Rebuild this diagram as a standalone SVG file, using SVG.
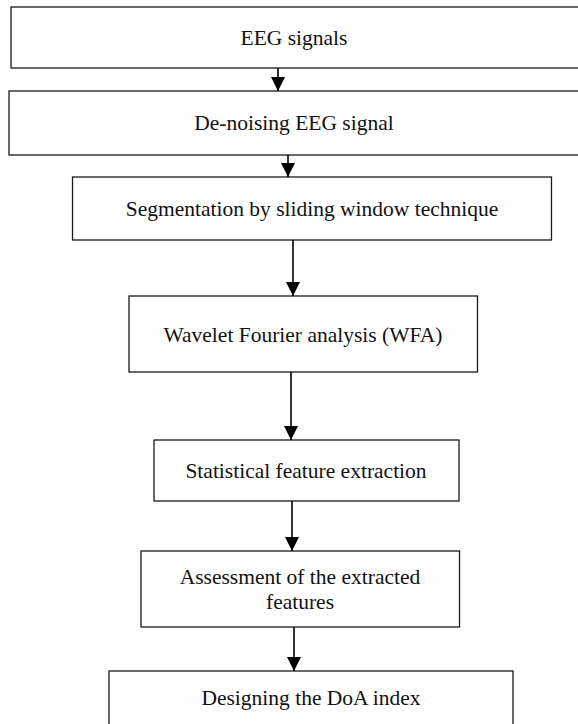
<svg xmlns="http://www.w3.org/2000/svg" width="578" height="724" viewBox="0 0 578 724">
  <style>
    .box { fill: #ffffff; stroke: #1a1a1a; stroke-width: 1.3; }
    .label { font-family: "Liberation Serif", "Times New Roman", serif; font-size: 21.5px; fill: #111111; text-anchor: middle; }
    .flow { stroke: #000000; stroke-width: 1.6; fill: none; marker-end: url(#head); }
  </style>
  <defs>
    <marker id="head" markerUnits="userSpaceOnUse" markerWidth="14" markerHeight="14" refX="14" refY="7" orient="auto" viewBox="0 0 14 14">
      <path d="M0,0 L14,7 L0,14 z" fill="#000000"/>
    </marker>
  </defs>
  <rect width="578" height="724" fill="#ffffff"/>

  <g id="eeg-signals">
    <rect class="box" x="11" y="7" width="590" height="61"/>
    <text class="label" x="294" y="45">EEG signals</text>
  </g>
  <g id="denoising">
    <rect class="box" x="9" y="91" width="590" height="64"/>
    <text class="label" x="294" y="130">De-noising EEG signal</text>
  </g>
  <g id="segmentation">
    <rect class="box" x="72.5" y="177" width="479" height="63"/>
    <text class="label" x="312" y="216">Segmentation by sliding window technique</text>
  </g>
  <g id="wfa">
    <rect class="box" x="129" y="296" width="348.5" height="76"/>
    <text class="label" x="303" y="342">Wavelet Fourier analysis (WFA)</text>
  </g>
  <g id="feature-extraction">
    <rect class="box" x="154" y="440" width="305" height="61"/>
    <text class="label" x="306" y="478">Statistical feature extraction</text>
  </g>
  <g id="assessment">
    <rect class="box" x="141" y="551" width="318.5" height="76"/>
    <text class="label" x="300" y="584">Assessment of the extracted</text>
    <text class="label" x="300" y="609">features</text>
  </g>
  <g id="doa-index">
    <rect class="box" x="109" y="671" width="404" height="70"/>
    <text class="label" x="311" y="705">Designing the DoA index</text>
  </g>

  <g id="connectors">
    <line class="flow" x1="278" y1="68" x2="278" y2="91"/>
    <line class="flow" x1="288" y1="155" x2="288" y2="177"/>
    <line class="flow" x1="293" y1="240" x2="293" y2="296"/>
    <line class="flow" x1="291" y1="372" x2="291" y2="440"/>
    <line class="flow" x1="292" y1="501" x2="292" y2="551"/>
    <line class="flow" x1="294" y1="627" x2="294" y2="671"/>
  </g>
</svg>
